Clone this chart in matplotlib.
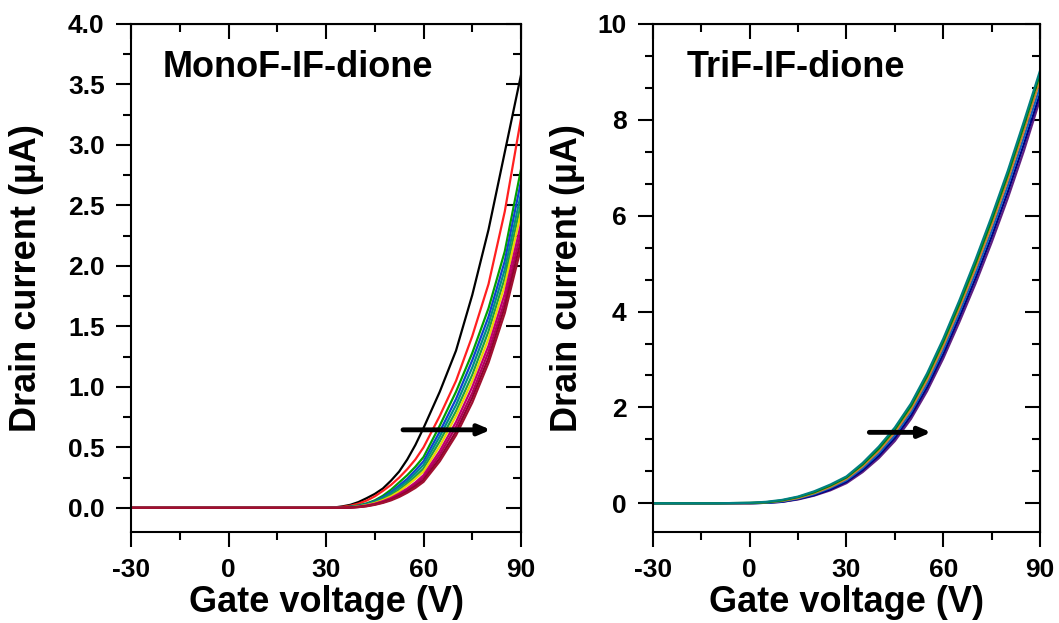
import matplotlib
matplotlib.use("Agg")
import matplotlib.pyplot as plt
from matplotlib.ticker import MultipleLocator

plt.rcParams['font.family'] = ['Liberation Sans', 'DejaVu Sans']
plt.rcParams['font.weight'] = 'bold'
plt.rcParams['axes.unicode_minus'] = False

# ---- MonoF-IF-dione (left) ----
v_mono = [-30, 0, 30, 32.5, 35, 37.5, 40, 42.5, 45, 47.5, 50, 52.5, 55, 57.5, 60, 65, 70, 75, 80, 85, 90]
mono_curves = [
    [0, 0, 0, 0.003, 0.012, 0.025, 0.048, 0.080, 0.115, 0.160, 0.225, 0.300, 0.400, 0.520, 0.660, 0.96, 1.30, 1.76, 2.30, 2.94, 3.58],
    [0, 0, 0, 0.002, 0.008, 0.018, 0.035, 0.060, 0.095, 0.140, 0.190, 0.250, 0.320, 0.400, 0.500, 0.76, 1.05, 1.42, 1.85, 2.45, 3.22],
    [0, 0, 0, 0.001, 0.004, 0.010, 0.020, 0.037, 0.062, 0.100, 0.150, 0.210, 0.270, 0.340, 0.420, 0.68, 0.96, 1.28, 1.65, 2.12, 2.80],
    [0, 0, 0, 0.001, 0.003, 0.008, 0.017, 0.032, 0.055, 0.088, 0.130, 0.185, 0.240, 0.310, 0.385, 0.63, 0.90, 1.22, 1.58, 2.04, 2.70],
    [0, 0, 0, 0.001, 0.003, 0.007, 0.015, 0.029, 0.050, 0.080, 0.120, 0.170, 0.220, 0.285, 0.355, 0.59, 0.85, 1.16, 1.52, 1.97, 2.60],
    [0, 0, 0, 0.000, 0.002, 0.006, 0.013, 0.026, 0.045, 0.071, 0.105, 0.150, 0.200, 0.260, 0.325, 0.55, 0.80, 1.10, 1.46, 1.90, 2.52],
    [0, 0, 0, 0.000, 0.002, 0.005, 0.011, 0.023, 0.040, 0.064, 0.095, 0.135, 0.185, 0.240, 0.300, 0.51, 0.76, 1.05, 1.40, 1.84, 2.44],
    [0, 0, 0, 0.000, 0.001, 0.004, 0.009, 0.019, 0.034, 0.055, 0.082, 0.118, 0.160, 0.210, 0.270, 0.47, 0.71, 1.00, 1.34, 1.77, 2.35],
    [0, 0, 0, 0.000, 0.001, 0.003, 0.008, 0.017, 0.031, 0.050, 0.075, 0.108, 0.148, 0.195, 0.250, 0.44, 0.67, 0.95, 1.29, 1.71, 2.28],
    [0, 0, 0, 0.000, 0.001, 0.003, 0.007, 0.015, 0.028, 0.045, 0.068, 0.098, 0.135, 0.180, 0.230, 0.41, 0.63, 0.91, 1.24, 1.66, 2.21],
    [0, 0, 0, 0.000, 0.001, 0.002, 0.006, 0.013, 0.025, 0.041, 0.062, 0.090, 0.125, 0.165, 0.215, 0.385, 0.60, 0.87, 1.20, 1.61, 2.15],
]
mono_colors = ['black', '#ff2020', '#00a000', '#1040d0', '#008b8b', '#20a040',
               '#e8d800', '#c00070', '#b0005a', '#900030', '#a01030']

# ---- TriF-IF-dione (right) ----
v_tri = [-30, -20, -10, 0, 5, 10, 15, 20, 25, 30, 35, 40, 45, 50, 55, 60, 65, 70, 75, 80, 85, 90]
tri_curves = [
    [0, 0, 0, 0.00, 0.01, 0.03, 0.08, 0.16, 0.27, 0.42, 0.65, 0.94, 1.30, 1.76, 2.34, 3.02, 3.78, 4.58, 5.44, 6.36, 7.35, 8.42],
    [0, 0, 0, 0.00, 0.01, 0.03, 0.09, 0.17, 0.29, 0.45, 0.69, 0.99, 1.36, 1.83, 2.42, 3.11, 3.88, 4.69, 5.56, 6.49, 7.49, 8.54],
    [0, 0, 0, 0.00, 0.01, 0.04, 0.10, 0.19, 0.32, 0.48, 0.73, 1.04, 1.42, 1.90, 2.50, 3.20, 3.98, 4.80, 5.68, 6.62, 7.63, 8.68],
    [0, 0, 0, 0.00, 0.02, 0.05, 0.11, 0.21, 0.34, 0.51, 0.77, 1.09, 1.48, 1.96, 2.57, 3.28, 4.07, 4.90, 5.79, 6.74, 7.76, 8.82],
    [0, 0, 0, 0.01, 0.02, 0.06, 0.13, 0.23, 0.37, 0.54, 0.81, 1.14, 1.54, 2.03, 2.65, 3.37, 4.16, 5.00, 5.90, 6.85, 7.88, 8.95],
    [0, 0, 0, 0.01, 0.03, 0.07, 0.14, 0.25, 0.39, 0.56, 0.84, 1.18, 1.58, 2.08, 2.71, 3.43, 4.23, 5.08, 5.98, 6.93, 7.96, 9.02],
]
tri_colors = ['#602080', '#000080', '#1060c0', '#d08030', '#008000', '#008080']

fig = plt.figure(figsize=(10.59, 6.23), dpi=100)
ax1 = fig.add_axes([0.1237, 0.146, 0.3683, 0.8155])
ax2 = fig.add_axes([0.6166, 0.146, 0.3654, 0.8155])


def style(ax, ylim, ymajor, yminor, fmt):
    ax.set_xlim(-30, 90)
    ax.set_ylim(*ylim)
    ax.xaxis.set_major_locator(MultipleLocator(30))
    ax.xaxis.set_minor_locator(MultipleLocator(15))
    ax.yaxis.set_major_locator(MultipleLocator(ymajor))
    ax.yaxis.set_minor_locator(MultipleLocator(yminor))
    ax.yaxis.set_major_formatter(fmt)
    for s in ax.spines.values():
        s.set_linewidth(1.5)
    ax.tick_params(which='major', direction='out', length=11, width=1.5,
                   labelsize=19, pad=8)
    ax.tick_params(which='minor', direction='out', length=6, width=1.5)
    # mirrored ticks pointing inward on top and right
    top = ax.secondary_xaxis('top')
    top.xaxis.set_major_locator(MultipleLocator(30))
    top.xaxis.set_minor_locator(MultipleLocator(15))
    top.tick_params(which='major', direction='in', length=11, width=1.5, labeltop=False)
    top.tick_params(which='minor', direction='in', length=6, width=1.5)
    right = ax.secondary_yaxis('right')
    right.yaxis.set_major_locator(MultipleLocator(ymajor))
    right.yaxis.set_minor_locator(MultipleLocator(yminor))
    right.tick_params(which='major', direction='in', length=11, width=1.5, labelright=False)
    right.tick_params(which='minor', direction='in', length=6, width=1.5)
    ax.set_xlabel('Gate voltage (V)', fontsize=26, fontweight='bold')
    ax.set_ylabel('Drain current (µA)', fontsize=26, fontweight='bold')
    ax.xaxis.set_label_coords(0.5, -0.138)
    ax.xaxis.label.set_va('center')
    ax.yaxis.label.set_va('center')


for ys, c in zip(mono_curves, mono_colors):
    ax1.plot(v_mono, ys, color=c, lw=1.6)
style(ax1, (-0.2, 4.0), 0.5, 0.25, '{x:.1f}')
ax1.yaxis.set_label_coords(-0.267, 0.5)
ax1.text(0.082, 0.915, 'MonoF-IF-dione', transform=ax1.transAxes,
         fontsize=26, fontweight='bold', va='center', ha='left')
ax1.annotate('', xy=(80.7, 0.645), xytext=(53.7, 0.645),
             arrowprops=dict(arrowstyle='-|>,head_length=0.7,head_width=0.3',
                             color='black', lw=3.5, shrinkA=0, shrinkB=0))

for ys, c in zip(tri_curves, tri_colors):
    ax2.plot(v_tri, ys, color=c, lw=1.6)
style(ax2, (-0.6, 10), 2, 2 / 3, '{x:.0f}')
ax2.yaxis.set_label_coords(-0.222, 0.5)
ax2.text(0.088, 0.915, 'TriF-IF-dione', transform=ax2.transAxes,
         fontsize=26, fontweight='bold', va='center', ha='left')
ax2.annotate('', xy=(56.3, 1.48), xytext=(37.1, 1.48),
             arrowprops=dict(arrowstyle='-|>,head_length=0.7,head_width=0.3',
                             color='black', lw=3.5, shrinkA=0, shrinkB=0))

fig.savefig('out.png', dpi=100)
